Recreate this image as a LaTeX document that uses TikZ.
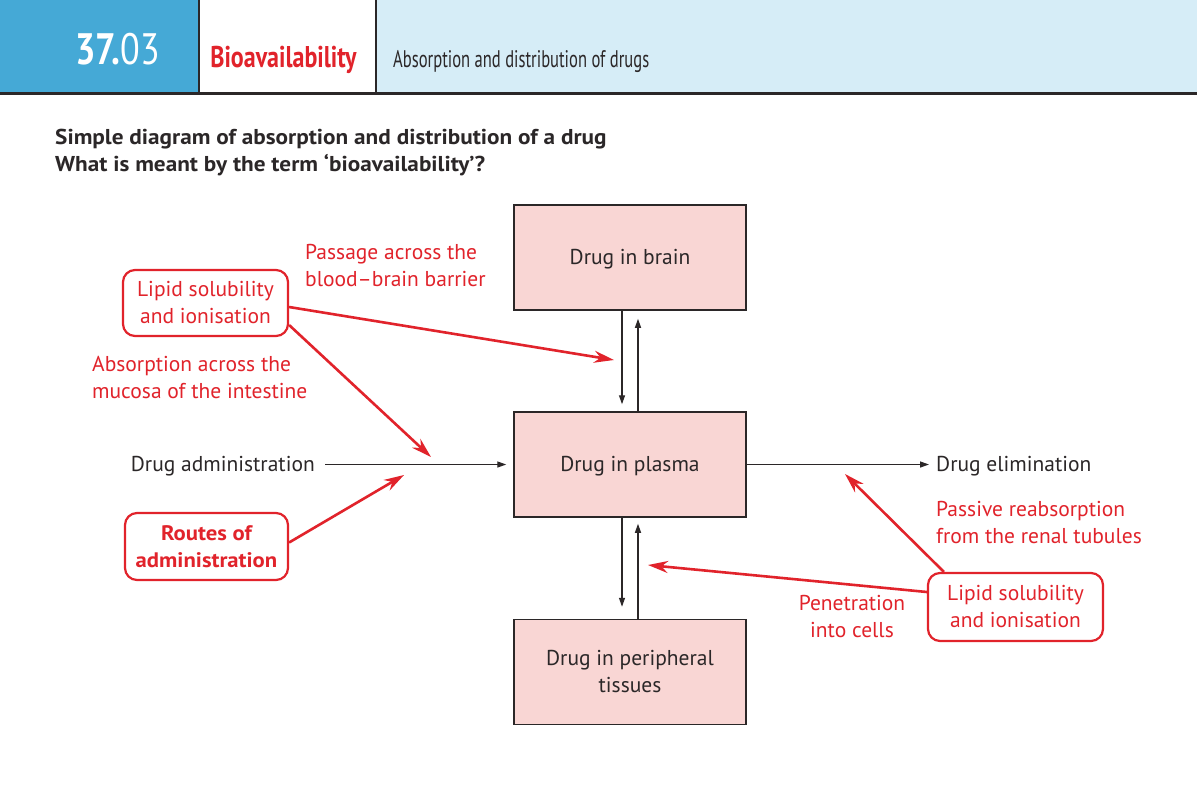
\documentclass[tikz,border=0pt]{standalone}
\usepackage{fontspec}
\setmainfont{PT Sans}
\newfontfamily\numfont[FakeStretch=0.82]{PT Sans}
\newfontfamily\topicfont[FakeStretch=0.80]{PT Sans}
\newfontfamily\subfont[FakeStretch=0.69]{PT Sans}
\newfontfamily\wideb[FakeStretch=1.08]{PT Sans}
\usetikzlibrary{arrows.meta}
\definecolor{hblue}{HTML}{45A9D6}
\definecolor{lblue}{HTML}{D6EDF7}
\definecolor{dred}{HTML}{E1232B}
\definecolor{pinkfill}{HTML}{F9D6D4}
\definecolor{dark}{HTML}{2B2728}
\tikzset{
  drugbox/.style={draw=dark, line width=1.5pt, fill=pinkfill, minimum width=232pt, minimum height=105pt, align=center, text=dark, font=\fontsize{21.5}{27}\selectfont},
  redbox/.style={draw=dred, line width=2.2pt, rounded corners=12pt, fill=white, align=center, text=dred, font=\fontsize{21.5}{27}\selectfont},
  redlbl/.style={text=dred, inner sep=0pt, font=\fontsize{21.5}{27}\selectfont},
  blklbl/.style={text=dark, inner sep=0pt, font=\fontsize{21.5}{27}\selectfont},
  titlelbl/.style={text=dark, inner sep=0pt, anchor=base west, font=\wideb\fontsize{21.5}{27}\selectfont\bfseries},
  blk/.style={draw=dark, line width=1.3pt, -{Triangle[length=9pt,width=6pt]}},
  redarr/.style={draw=dred, line width=2.6pt, -{Stealth[length=20pt,width=12pt]}},
}
\begin{document}
\begin{tikzpicture}[x=1pt,y=-1pt]
\useasboundingbox (0,0) rectangle (1197,804);
\fill[white] (0,0) rectangle (1197,804);
% header
\fill[hblue] (0,0) rectangle (199,93);
\fill[lblue] (376,0) rectangle (1197,93);
\draw[dark, line width=1.6pt] (199,0) -- (199,93) (376,0) -- (376,93);
\draw[dark, line width=3pt] (0,93.5) -- (1197,93.5);
\node[text=white, inner sep=0pt, anchor=base] (num) at (117.5,64) {\numfont\fontsize{44}{44}\selectfont\bfseries 37.\mdseries 03};
\node[text=dred, inner sep=0pt, anchor=base] (topic) at (283.5,67) {\topicfont\fontsize{30}{30}\selectfont\bfseries Bioavailability};
\node[text=dark, inner sep=0pt, anchor=base west] (sub) at (393,67) {\subfont\fontsize{24}{24}\selectfont Absorption and distribution of drugs};
% titles
\node[titlelbl] (t1) at (55,144) {Simple diagram of absorption and distribution of a drug};
\node[titlelbl] (t2) at (55,171) {What is meant by the term ‘bioavailability’?};
% boxes
\node[drugbox, text height=14pt, text depth=0pt] (brain) at (630,257.5) {Drug in brain};
\node[drugbox, text height=14pt, text depth=0pt] (plasma) at (630,464.5) {Drug in plasma};
\node[drugbox] (tissue) at (630,672) {Drug in peripheral\\tissues};
% vertical arrows
\draw[blk] ([xshift=-8pt]brain.south) -- ([xshift=-8pt,yshift=7pt]plasma.north);
\draw[blk] ([xshift=8pt]plasma.north) -- ([xshift=8pt,yshift=-8pt]brain.south);
\draw[blk] ([xshift=-8pt]plasma.south) -- ([xshift=-8pt,yshift=12pt]tissue.north);
\draw[blk] ([xshift=8pt]tissue.north) -- ([xshift=8pt,yshift=-6pt]plasma.south);
% horizontal
\node[blklbl, anchor=base east] (admin) at (315,471) {Drug administration};
\node[blklbl, anchor=base west] (elim) at (936,471) {Drug elimination};
\draw[blk] ([xshift=10pt]admin.east |- plasma.west) -- ([xshift=-7pt]plasma.west);
\draw[blk] (plasma.east) -- ([xshift=-7pt]elim.west |- plasma.east);
% red boxes
\node[redbox, minimum width=165pt, minimum height=66pt] (lip1) at (205.5,303) {Lipid solubility\\and ionisation};
\node[redbox, minimum width=163pt, minimum height=67pt, font=\wideb\fontsize{21}{27}\selectfont\bfseries] (routes) at (206.5,546.5) {Routes of\\administration};
\node[redbox, minimum width=175pt, minimum height=68pt] (lip2) at (1015.5,607) {Lipid solubility\\and ionisation};
% red labels
\node[redlbl, anchor=west, align=left] (pass) at (305,266) {Passage across the\\blood–brain barrier};
\node[redlbl, anchor=west, align=left] (absorb) at (92,377) {Absorption across the\\mucosa of the intestine};
\node[redlbl, anchor=west, align=left] (reab) at (936,523) {Passive reabsorption\\from the renal tubules};
\node[redlbl, align=center] (pen) at (852,617) {Penetration\\into cells};
% red arrows
\coordinate (e1) at (614,360);
\coordinate (e2) at (431,457);
\coordinate (e3) at (404,475);
\coordinate (e4) at (845,474);
\coordinate (e5) at (648,565);
\draw[redarr] ([yshift=-4pt]lip1.east) -- (e1);
\draw[redarr] ([yshift=-22pt]lip1.east) -- (e2);
\draw[redarr] ([yshift=4pt]routes.east) -- (e3);
\draw[redarr] ([xshift=17pt]lip2.north west) -- (e4);
\draw[redarr] ([yshift=15pt]lip2.west) -- (e5);
\end{tikzpicture}
\end{document}
